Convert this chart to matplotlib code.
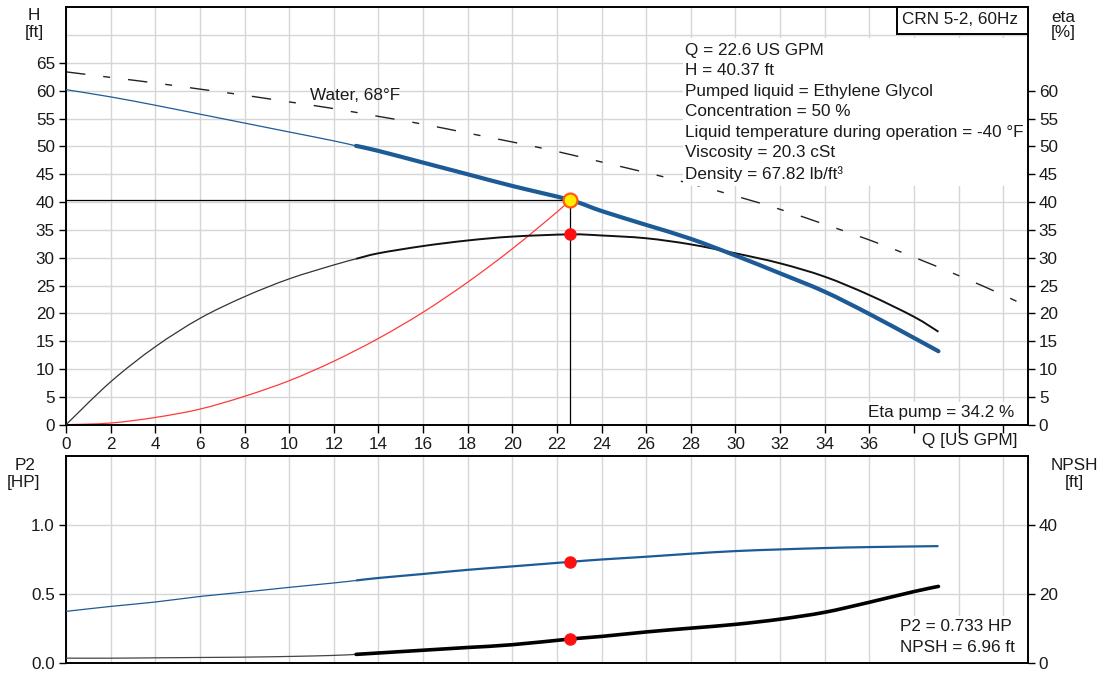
import matplotlib
matplotlib.use("Agg")
import matplotlib.pyplot as plt
from matplotlib.patches import Rectangle, PathPatch
from matplotlib.path import Path

plt.rcParams['font.family'] = ['Liberation Sans', 'DejaVu Sans']
FS = 12.3
TXT = "#1a1a1a"
GRID = "#d4d6d8"
BLUE = "#1d5b97"

# ---- duty point ----
Q_DUTY = 22.6
H_DUTY = 40.37
ETA_DUTY = 34.2
P2_DUTY = 0.733
NPSH_DUTY = 6.96

# ---- head curve, pumped liquid (ft) ----
q_head = [0, 2, 4, 6, 8, 10, 12, 13, 14, 16, 18, 20, 22.6, 24, 26, 28, 30, 32, 34, 36, 38, 39.1]
head = [60.2, 58.9, 57.4, 55.8, 54.2, 52.6, 51.0, 50.1, 49.2, 47.1, 45.0, 42.9, 40.37,
        38.4, 35.9, 33.4, 30.4, 27.2, 23.9, 19.9, 15.6, 13.2]

# ---- head curve, water 68°F (ft) ----
q_water = [0, 2, 4, 6, 8, 10, 12, 14, 16, 18, 20, 22, 24, 26, 28, 30, 32, 34, 36, 38, 40, 42, 43.1]
head_water = [63.4, 62.4, 61.4, 60.3, 59.2, 58.0, 56.8, 55.4, 54.0, 52.4, 50.8, 49.1, 47.2,
              45.3, 43.3, 41.1, 38.7, 36.0, 33.2, 30.1, 26.8, 23.3, 21.2]

# ---- pump efficiency (%) ----
q_eta = [0, 2, 4, 6, 8, 10, 12, 13, 14, 16, 18, 20, 22.6, 24, 26, 28, 30, 32, 34, 36, 38, 39.1]
eta = [0.0, 7.7, 14.0, 19.1, 23.0, 26.2, 28.7, 29.8, 30.8, 32.1, 33.1, 33.8, 34.2,
       34.0, 33.5, 32.4, 30.8, 29.0, 26.6, 23.3, 19.4, 16.7]

# ---- system curve (ft) ----
q_sys = [0, 2, 4, 6, 8, 10, 12, 14, 16, 18, 20, 22, 22.6]
head_sys = [0.0, 0.3, 1.3, 2.8, 5.1, 7.9, 11.4, 15.5, 20.2, 25.6, 31.6, 38.2, 40.37]

# ---- shaft power P2 (HP) ----
q_p2 = [0, 2, 4, 6, 8, 10, 12, 13, 14, 16, 18, 20, 22.6, 24, 26, 28, 30, 32, 34, 36, 39.1]
p2 = [0.374, 0.410, 0.442, 0.482, 0.514, 0.548, 0.580, 0.598, 0.616, 0.645, 0.675, 0.700,
      0.733, 0.750, 0.770, 0.792, 0.811, 0.823, 0.833, 0.840, 0.847]

# ---- NPSH required (ft) ----
q_npsh = [0, 2, 4, 6, 8, 10, 12, 13, 14, 16, 18, 20, 22.6, 24, 26, 28, 30, 32, 34, 36, 38, 39.1]
npsh = [1.4, 1.4, 1.5, 1.6, 1.7, 1.9, 2.2, 2.5, 2.9, 3.7, 4.5, 5.3, 6.96, 7.7, 9.0, 10.1,
        11.2, 12.7, 14.7, 17.6, 20.7, 22.2]

x_ticks = list(range(0, 43, 2))
x_labels = [str(v) if v <= 36 else "" for v in x_ticks]
h_ticks = list(range(0, 66, 5))
eta_ticks = list(range(0, 61, 5))
p2_ticks = [0.0, 0.5, 1.0]
p2_labels = ["0.0", "0.5", "1.0"]
npsh_ticks = [0, 20, 40]

Q_MAX = 43.1
H_MAX = 75
P2_MAX = 1.5
NPSH_MAX = 60
Q_SPLIT = 13  # start of the recommended operating range

info_lines = [
    "Q = 22.6 US GPM",
    "H = 40.37 ft",
    "Pumped liquid = Ethylene Glycol",
    "Concentration = 50 %",
    "Liquid temperature during operation = -40 °F",
    "Viscosity = 20.3 cSt",
    "Density = 67.82 lb/ft³",
]

W, H = 1102, 673
fig = plt.figure(figsize=(W / 100, H / 100), dpi=100)

# axes frames in pixel units
L, R = 66, 1027.7
T1, B1 = 7.3, 424.7
T2, B2 = 456, 663
ax = fig.add_axes([L / W, (H - B1) / H, (R - L) / W, (B1 - T1) / H])
bx = fig.add_axes([L / W, (H - B2) / H, (R - L) / W, (B2 - T2) / H])


def split(qs, vs, at):
    lo = [(q, v) for q, v in zip(qs, vs) if q <= at]
    hi = [(q, v) for q, v in zip(qs, vs) if q >= at]
    return list(zip(*lo)), list(zip(*hi))


def smooth_curve(a, xs, ys, zorder=3, capstyle="butt", **kw):
    """Draw a smooth Bezier curve (Catmull-Rom style) through the given points."""
    pts = list(zip(xs, ys))
    n = len(pts)
    verts = [pts[0]]
    codes = [Path.MOVETO]
    for i in range(n - 1):
        p0 = pts[i - 1] if i > 0 else pts[i]
        p1 = pts[i]
        p2_ = pts[i + 1]
        p3 = pts[i + 2] if i + 2 < n else pts[i + 1]
        c1 = (p1[0] + (p2_[0] - p0[0]) / 6, p1[1] + (p2_[1] - p0[1]) / 6)
        c2 = (p2_[0] - (p3[0] - p1[0]) / 6, p2_[1] - (p3[1] - p1[1]) / 6)
        verts += [c1, c2, p2_]
        codes += [Path.CURVE4] * 3
    patch = PathPatch(Path(verts, codes), fill=False, zorder=zorder, **kw)
    patch.set_capstyle(capstyle)
    a.add_patch(patch)
    return patch


def style_axes(a, left_ticks, left_labels, ylim):
    a.set_xlim(0, Q_MAX)
    a.set_ylim(*ylim)
    for s in a.spines.values():
        s.set_linewidth(1.4)
        s.set_color("black")
    a.set_yticks(left_ticks)
    a.set_yticklabels(left_labels)
    a.tick_params(axis="y", direction="out", length=5, width=1, pad=3,
                  labelsize=FS, labelcolor=TXT)
    a.set_axisbelow(True)


# ================= top panel: head / efficiency =================
style_axes(ax, h_ticks, [str(v) for v in h_ticks], (0, H_MAX))
ax.set_xticks(x_ticks)
ax.set_xticklabels(x_labels)
ax.tick_params(axis="x", direction="out", length=6, width=1, pad=3,
               labelsize=FS, labelcolor=TXT)
for v in x_ticks:
    ax.axvline(v, color=GRID, lw=1.0, zorder=0)
for v in range(5, 71, 5):
    ax.axhline(v, color=GRID, lw=1.0, zorder=0)

axr = ax.twinx()
axr.set_ylim(0, H_MAX)
axr.set_yticks(eta_ticks)
axr.set_yticklabels([str(v) for v in eta_ticks])
axr.tick_params(axis="y", direction="out", length=5, width=1, pad=3,
                labelsize=FS, labelcolor=TXT)
for s in axr.spines.values():
    s.set_visible(False)

# water curve
smooth_curve(ax, q_water, head_water, zorder=2, edgecolor="#222222", lw=1.0,
             linestyle=(0, (14, 13, 5, 13)))
# system curve
smooth_curve(ax, q_sys, head_sys, zorder=2, edgecolor="#ff3a3a", lw=0.9)
# efficiency
(e_lo, e_hi) = split(q_eta, eta, Q_SPLIT)
smooth_curve(ax, e_lo[0], e_lo[1], edgecolor="#333333", lw=0.9)
smooth_curve(ax, e_hi[0], e_hi[1], edgecolor="#111111", lw=1.4)
# head
(h_lo, h_hi) = split(q_head, head, Q_SPLIT)
smooth_curve(ax, h_lo[0], h_lo[1], edgecolor=BLUE, lw=0.9)
smooth_curve(ax, h_hi[0], h_hi[1], edgecolor=BLUE, lw=3.0, capstyle="round")

# duty point guides
ax.plot([0, Q_DUTY], [H_DUTY, H_DUTY], color="black", lw=0.9, zorder=4)
ax.plot([Q_DUTY, Q_DUTY], [0, H_DUTY], color="black", lw=0.9, zorder=4)
ax.plot([Q_DUTY], [ETA_DUTY], "o", ms=8, color="#ff1010", mec="#ff1010", zorder=6)
ax.plot([Q_DUTY], [H_DUTY], "o", ms=10, mfc="#ffee00", mec="#ff5a10", mew=1.6, zorder=6)


def ax_frac(px, py, top, bottom):
    return (px - L) / (R - L), (bottom - py) / (bottom - top)


def white_box(a, x0, y0, x1, y1, top, bottom, edge="none", lw=0):
    fx0, fy1 = ax_frac(x0, y1, top, bottom)
    fx1, fy0 = ax_frac(x1, y0, top, bottom)
    a.add_patch(Rectangle((fx0, fy1), fx1 - fx0, fy0 - fy1, transform=a.transAxes,
                          facecolor="white", edgecolor=edge, lw=lw, zorder=5,
                          clip_on=False))


def put(a, px, py, s, top, bottom, ha="left"):
    fx, fy = ax_frac(px, py, top, bottom)
    a.text(fx, fy, s, transform=a.transAxes, ha=ha, va="center", fontsize=FS,
           color=TXT, zorder=7)


# info block
white_box(ax, 683, 38, R - 1, 186, T1, B1)
for i, line in enumerate(info_lines):
    put(ax, 685, 50 + i * 20.6, line, T1, B1)

# model box
white_box(ax, 897, T1, R, 34, T1, B1, edge="black", lw=1.4)
put(ax, 960, 20, "CRN 5-2, 60Hz", T1, B1, ha="center")

# water label
put(ax, 310, 95, "Water, 68°F", T1, B1)

# efficiency at duty point
white_box(ax, 866, 402, R - 1, B1 - 1, T1, B1)
put(ax, 868, 412, f"Eta pump = {ETA_DUTY} %", T1, B1)

# ================= bottom panel: power / NPSH =================
style_axes(bx, p2_ticks, p2_labels, (0, P2_MAX))
bx.set_xticks(x_ticks)
bx.tick_params(axis="x", length=0, labelbottom=False)
for v in x_ticks:
    bx.axvline(v, color=GRID, lw=1.0, zorder=0)
for v in (0.5, 1.0):
    bx.axhline(v, color=GRID, lw=1.0, zorder=0)

bxr = bx.twinx()
bxr.set_ylim(0, NPSH_MAX)
bxr.set_yticks(npsh_ticks)
bxr.set_yticklabels([str(v) for v in npsh_ticks])
bxr.tick_params(axis="y", direction="out", length=5, width=1, pad=3,
                labelsize=FS, labelcolor=TXT)
for s in bxr.spines.values():
    s.set_visible(False)

(p_lo, p_hi) = split(q_p2, p2, Q_SPLIT)
smooth_curve(bx, p_lo[0], p_lo[1], edgecolor=BLUE, lw=0.9)
smooth_curve(bx, p_hi[0], p_hi[1], edgecolor=BLUE, lw=1.6)
bx.plot([Q_DUTY], [P2_DUTY], "o", ms=8, color="#ff1010", zorder=6)

(n_lo, n_hi) = split(q_npsh, npsh, Q_SPLIT)
smooth_curve(bxr, n_lo[0], n_lo[1], edgecolor="#444444", lw=0.9)
smooth_curve(bxr, n_hi[0], n_hi[1], edgecolor="black", lw=2.6, capstyle="round")
bxr.plot([Q_DUTY], [NPSH_DUTY], "o", ms=8, color="#ff1010", zorder=6)

white_box(bxr, 897, 616, R - 1, B2 - 1, T2, B2)
put(bxr, 900, 626.7, f"P2 = {P2_DUTY} HP", T2, B2)
put(bxr, 900, 647.3, f"NPSH = {NPSH_DUTY} ft", T2, B2)

# ================= axis titles =================
def ftext(px, py, s):
    fig.text(px / W, 1 - py / H, s, ha="center", va="center", fontsize=FS, color=TXT)


ftext(34, 15, "H")
ftext(34, 33, "[ft]")
ftext(1063, 17, "eta")
ftext(1063, 33, "[%]")
ftext(25, 465, "P2")
ftext(24, 482, "[HP]")
ftext(1074, 465, "NPSH")
ftext(1074, 482, "[ft]")
ftext(970, 440, "Q [US GPM]")

fig.savefig("out.png", dpi=100, facecolor="white")
